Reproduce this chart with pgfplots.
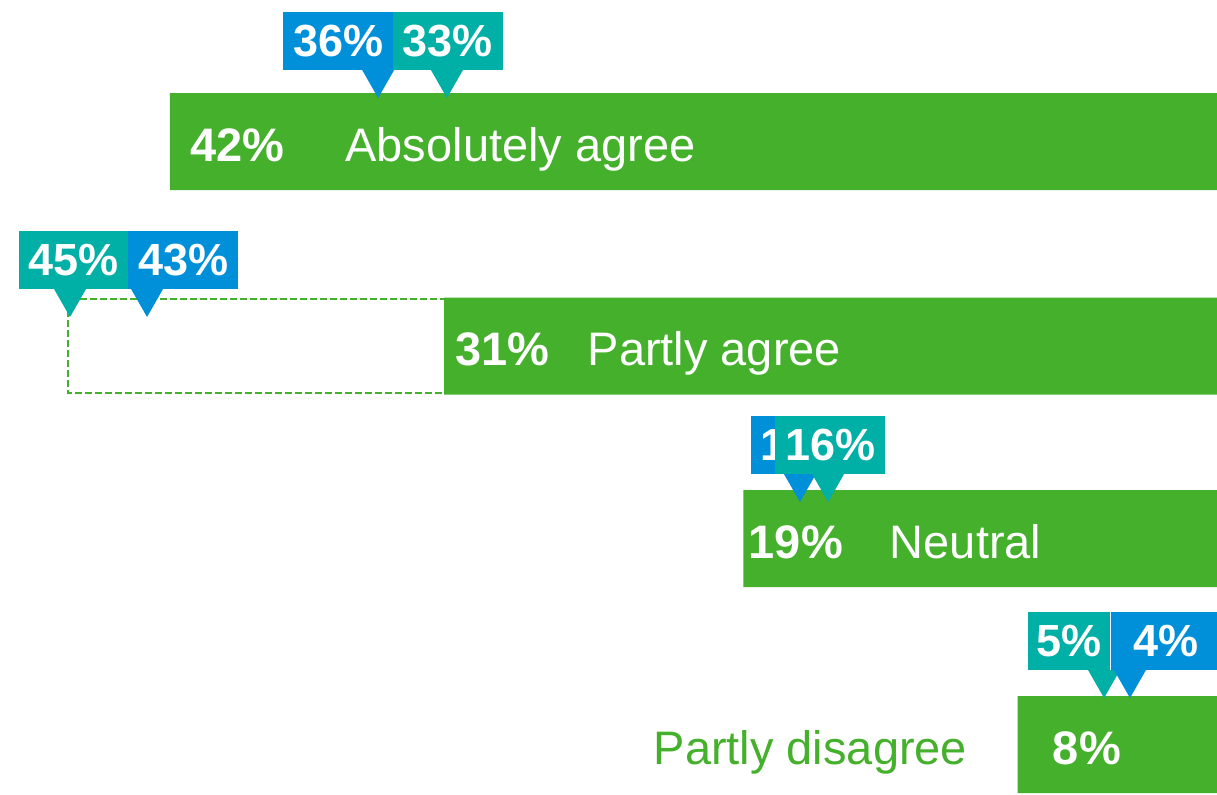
\documentclass[border=0pt]{standalone}
\usepackage{fontspec}
\setmainfont{Liberation Sans}
\usepackage{pgfplots}
\pgfplotsset{compat=1.18}

\definecolor{bargreen}{HTML}{45B02B}
\definecolor{mblue}{HTML}{0090DA}
\definecolor{mteal}{HTML}{00AFA5}

% downward pointer, tip at the data point
\pgfdeclareplotmark{callouttip}{%
  \pgfpathmoveto{\pgfpoint{0pt}{0pt}}%
  \pgfpathlineto{\pgfpoint{-8pt}{14pt}}%
  \pgfpathlineto{\pgfpoint{8pt}{14pt}}%
  \pgfpathclose
  \pgfusepathqfill}

\pgfplotsset{
  callout/.style 2 args={
    only marks, mark=callouttip, color=#1, mark options={fill=#1, draw=none},
    nodes near coords, point meta=explicit symbolic,
    every node near coord/.style={anchor=south, fill=#1, text=white,
      font=\fontsize{22.5}{27}\selectfont\bfseries,
      minimum width=55pt, minimum height=29pt, inner sep=0pt,
      xshift=#2, yshift=14pt},
  },
  barlabel/.style={
    only marks, mark=none, nodes near coords, point meta=explicit symbolic,
    every node near coord/.style={inner sep=0pt, text=white,
      font=\fontsize{23.5}{28}\selectfont, yshift=-9.75pt, anchor=base west},
  },
}

\begin{document}
\begin{tikzpicture}
\begin{axis}[
  scale only axis, width=608.5pt, height=397pt,
  hide axis, clip=false, enlargelimits=false,
  xmin=0, xmax=48.82, x dir=reverse,
  ymin=0, ymax=794, y dir=reverse,
]
% earlier value, dashed outline
\addplot[xbar, bar shift=0pt, bar width=94, draw=bargreen, fill=none,
  line width=0.75pt, dash pattern=on 3.5pt off 1.5pt]
  coordinates {(46.1,346)};
% answers
\addplot[xbar, bar shift=0pt, bar width=97, draw=none, fill=bargreen]
  coordinates {(42,141.5) (31,346) (19,538.5) (8,744.5)};

\addplot[barlabel] coordinates {
  (42,141.5) [{\hspace{10pt}\textbf{42\%}\hspace{30.5pt}Absolutely agree}]
  (31,346) [{\hspace{5.5pt}\textbf{31\%}\hspace{19pt}Partly agree}]
  (19,538.5) [{\hspace{2.5pt}\textbf{19\%}\hspace{23.5pt}Neutral}]
  (8,744.5) [{\hspace{17.5pt}\textbf{8\%}}]
};
\addplot[barlabel, every node near coord/.append style={anchor=base east,
  text=bargreen, xshift=-25pt}]
  coordinates {(8,744.5) [Partly disagree]};

% comparison markers
\addplot[callout={mblue}{-20pt}] coordinates {(33.65,98) [36\%]};
\addplot[callout={mteal}{0.5pt}] coordinates {(30.89,98) [33\%]};
\addplot[callout={mteal}{1.75pt}] coordinates {(46.01,317) [45\%]};
\addplot[callout={mblue}{18pt}] coordinates {(42.92,317) [43\%]};
\addplot[callout={mblue}{3pt}] coordinates {(16.73,502) [17\%]};
\addplot[callout={mteal}{1pt}] coordinates {(15.60,502) [16\%]};
\addplot[callout={mteal}{-17.5pt},
  every node near coord/.append style={minimum width=41pt}]
  coordinates {(4.53,698) [5\%]};
\addplot[callout={mblue}{18pt}] coordinates {(3.49,698) [4\%]};
\end{axis}
\pgfresetboundingbox
\useasboundingbox (0,0) rectangle (608.5pt,397pt);
\end{tikzpicture}
\end{document}
